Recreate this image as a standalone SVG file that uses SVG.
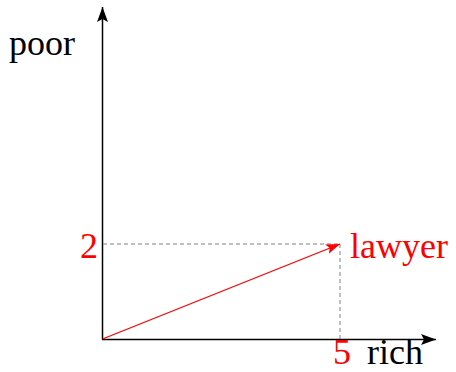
<svg xmlns="http://www.w3.org/2000/svg" width="456" height="372" viewBox="0 0 456 372">
<style>
.t{font-family:'Liberation Serif','Times New Roman',serif;font-size:36px}
.red{fill:#ff0000}
.blk{fill:#000}
.axis{stroke:#000;stroke-width:1.5;fill:none}
.dash{stroke:#808080;stroke-width:1;stroke-dasharray:4 3;fill:none}
.vec{stroke:#ff0000;stroke-width:1.3;fill:none}
</style>
<defs>
<marker id="ah" markerUnits="userSpaceOnUse" markerWidth="20" markerHeight="14" refX="15" refY="6" orient="auto" viewBox="0 0 20 14">
<path d="M15 6 L0 0.5 L3 6 L0 11.5 Z" fill="#000"/>
</marker>
<marker id="ahr" markerUnits="userSpaceOnUse" markerWidth="20" markerHeight="14" refX="14" refY="6" orient="auto" viewBox="0 0 20 14">
<path d="M14 6 L0 1 L3 6 L0 11 Z" fill="#ff0000"/>
</marker>
</defs>
<g id="connectors">
<line class="axis" x1="102.5" y1="339.5" x2="102.5" y2="7" marker-end="url(#ah)"/>
<line class="axis" x1="102" y1="339.5" x2="436" y2="339.5" marker-end="url(#ah)"/>
<line class="dash" x1="103" y1="244" x2="340" y2="244"/>
<line class="dash" x1="340" y1="244" x2="340" y2="339"/>
<line class="vec" x1="102.5" y1="339" x2="340" y2="244" marker-end="url(#ahr)"/>
</g>
<g id="label-poor"><text class="t blk" x="9" y="55">poor</text></g>
<g id="label-rich"><text class="t blk" x="367" y="364">rich</text></g>
<g id="label-5"><text class="t red" x="333" y="364">5</text></g>
<g id="label-2"><text class="t red" x="80" y="258">2</text></g>
<g id="label-lawyer"><text class="t red" x="350" y="258">lawyer</text></g>
</svg>
